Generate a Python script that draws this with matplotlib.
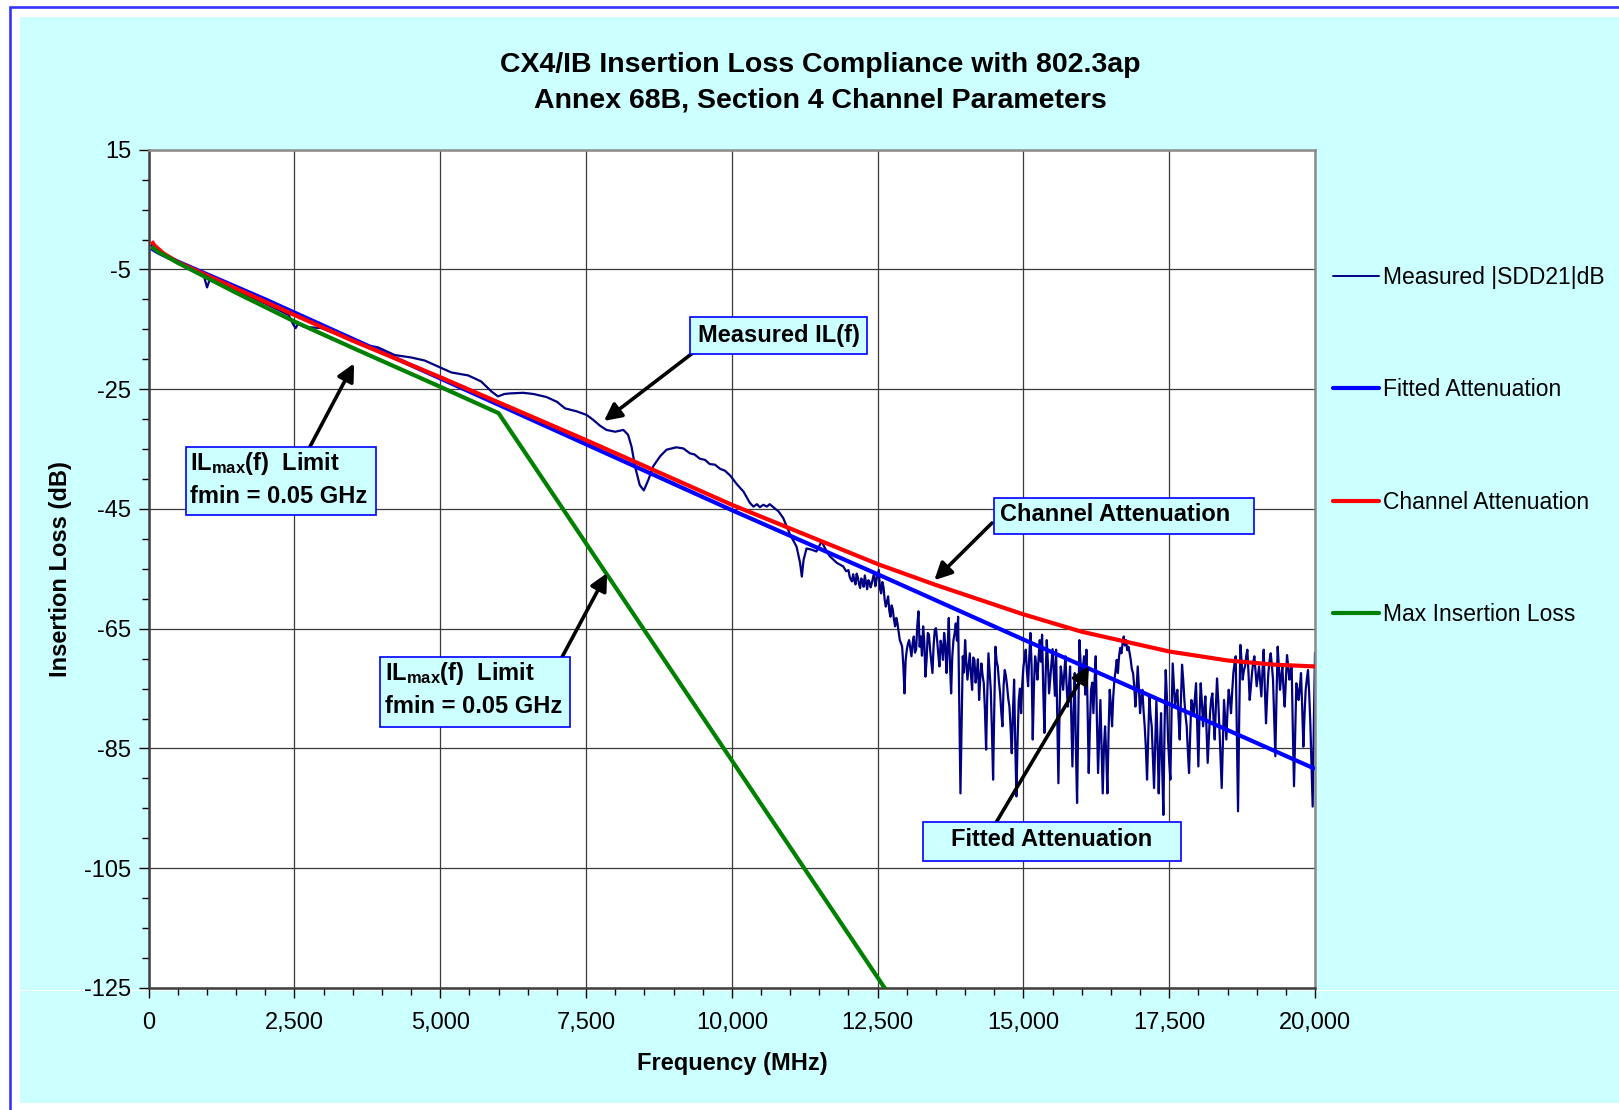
import numpy as np
import matplotlib
matplotlib.use("Agg")
import matplotlib.pyplot as plt
from matplotlib.patches import Rectangle
from matplotlib.lines import Line2D
from matplotlib.ticker import FixedLocator, MultipleLocator, FuncFormatter

plt.rcParams['font.family'] = ['Liberation Sans', 'DejaVu Sans']
plt.rcParams['mathtext.fontset'] = 'custom'
plt.rcParams['mathtext.rm'] = 'Liberation Sans:bold'
plt.rcParams['mathtext.bf'] = 'Liberation Sans:bold'
plt.rcParams['mathtext.it'] = 'Liberation Sans:bold'
plt.rcParams['axes.unicode_minus'] = False

# ---------------- data ----------------
title_lines = ["CX4/IB Insertion Loss Compliance with 802.3ap",
               "Annex 68B, Section 4 Channel Parameters"]
series_names = ["Measured |SDD21|dB", "Fitted Attenuation",
                "Channel Attenuation", "Max Insertion Loss"]

# Measured |SDD21| (smooth low-frequency part)
meas_freq_lo = [50, 200, 500, 800, 950, 1000, 1050, 1500, 2000, 2400,
                2480, 2520, 2560, 2680, 2960, 3250, 3700, 3930, 4220, 4500,
                4730, 4960, 5190, 5480, 5700, 5880, 5990, 6100, 6200, 6420,
                6600, 6820, 7000, 7140, 7340, 7510, 7620, 7740, 7850, 8000,
                8140, 8220, 8280, 8340, 8420, 8490, 8570, 8650, 8770, 8880,
                9050, 9170, 9280, 9360, 9450, 9540, 9620, 9710, 9800, 9880,
                9970, 10080, 10200, 10310, 10370, 10430, 10480, 10540, 10600, 10650,
                10710, 10800, 10880, 10940, 11000, 11050, 11110, 11170, 11200, 11230,
                11280, 11370, 11450, 11540, 11600, 11680, 11800, 11910, 11960]
meas_db_lo = [-1.0, -2.0, -3.6, -5.0, -6.2, -8.0, -6.6, -8.5, -10.7, -12.6,
              -14.2, -14.8, -14.1, -14.6, -14.8, -15.9, -17.6, -18.0, -19.3, -19.7,
              -20.2, -21.2, -22.2, -22.7, -23.7, -25.4, -26.2, -25.8, -25.7, -25.6,
              -25.8, -26.3, -27.1, -28.2, -28.7, -29.3, -30.1, -31.1, -31.8, -32.1,
              -31.8, -32.6, -34.6, -37.9, -41.0, -41.9, -40.1, -37.9, -36.2, -35.1,
              -34.7, -34.9, -35.7, -35.9, -36.6, -36.8, -37.5, -37.6, -38.3, -38.6,
              -39.4, -40.8, -42.1, -44.0, -44.6, -44.2, -44.7, -44.3, -44.6, -44.2,
              -44.7, -45.4, -46.5, -47.9, -49.3, -50.2, -51.3, -54.0, -56.3, -53.5,
              -51.6, -51.8, -52.1, -50.4, -51.6, -52.9, -54.0, -54.6, -55.4]

# Measured |SDD21| (noisy part), samples at 12000, 12040, ... 20000 MHz
meas_hi_start = 12000
meas_hi_step = 40
meas_db_hi = [
    -55.2, -56.8, -55.9, -57.6, -56.4, -58.2, -57.0, -56.1, -58.4, -57.2,
    -57.4, -55.7, -56.8, -55.2, -59.1, -58.0, -61.3, -59.6, -63.0, -61.8,
    -64.6, -64.1, -66.9, -68.0, -75.8, -68.5, -66.9, -69.6, -66.3, -68.5,
    -62.1, -66.3, -64.6, -73.0, -65.7, -68.5, -72.4, -65.2, -66.9, -71.3,
    -68.0, -65.7, -72.4, -63.2, -75.8, -66.9, -64.1, -63.0, -92.5, -69.6,
    -66.9, -73.5, -69.1, -75.2, -70.2, -72.4, -76.9, -70.8, -74.1, -85.2,
    -69.1, -75.2, -90.2, -68.0, -71.3, -75.8, -81.3, -71.9, -74.6, -78.0,
    -85.8, -73.5, -93.0, -76.9, -79.1, -71.3, -68.5, -74.6, -65.7, -83.5,
    -69.6, -73.5, -66.9, -66.0, -82.4, -66.9, -75.8, -70.8, -72.4, -68.5,
    -90.8, -71.3, -75.2, -69.6, -78.0, -71.3, -88.0, -72.4, -94.1, -66.9,
    -73.5, -69.6, -68.5, -89.1, -75.2, -79.1, -69.6, -89.1, -76.9, -92.5,
    -81.3, -92.5, -75.2, -81.3, -73.5, -70.2, -69.6, -69.1, -66.3, -66.9,
    -68.0, -70.2, -72.4, -78.0, -71.3, -79.1, -75.2, -81.3, -90.2, -76.3,
    -81.3, -91.6, -76.9, -92.5, -79.1, -96.1, -71.9, -83.5, -90.2, -70.8,
    -78.0, -75.2, -83.5, -71.0, -76.9, -81.3, -89.1, -76.9, -79.1, -74.1,
    -88.0, -74.1, -81.3, -76.3, -87.4, -79.1, -75.8, -83.5, -73.3, -81.3,
    -91.6, -76.9, -83.5, -75.2, -79.1, -72.4, -69.6, -95.5, -67.7, -73.5,
    -71.3, -68.5, -76.9, -72.4, -69.6, -74.6, -71.3, -76.3, -68.5, -80.8,
    -72.4, -69.1, -73.5, -86.3, -68.0, -75.2, -71.3, -78.0, -69.4, -73.5,
    -71.3, -91.3, -74.1, -76.9, -72.4, -84.7, -75.2, -71.9, -80.8, -94.7,
    -69.1]

# Measured |SDD21| (noisy part), in-between samples at 12020, 12060, ... 19980 MHz
meas_mid_start = 12020
meas_db_mid = [
    -56.3, -57.1, -56.9, -55.8, -57.5, -56.6, -58.0, -57.3, -56.9, -58.1,
    -56.5, -57.9, -56.0, -58.3, -57.2, -60.1, -60.4, -62.0, -61.1, -63.5,
    -63.2, -65.5, -67.4, -71.0, -70.3, -67.5, -68.2, -67.4, -69.0, -64.5,
    -68.0, -69.5, -67.2, -70.1, -66.0, -70.4, -67.8, -64.9, -69.3, -67.0,
    -70.2, -67.5, -68.3, -70.9, -69.6, -65.8, -67.0, -78.4, -81.0, -72.3,
    -70.5, -71.2, -72.6, -69.8, -74.0, -70.1, -73.2, -72.8, -78.6, -76.0,
    -72.2, -82.0, -78.3, -70.4, -73.8, -78.9, -74.5, -72.9, -76.7, -81.6,
    -79.0, -84.4, -83.5, -75.0, -74.2, -70.0, -72.1, -69.8, -71.2, -74.8,
    -71.0, -69.9, -70.5, -75.2, -73.0, -70.7, -73.4, -68.4, -76.2, -80.1,
    -78.5, -73.0, -72.6, -74.4, -74.9, -79.4, -78.8, -85.0, -79.9, -70.6,
    -71.5, -76.0, -78.2, -81.4, -74.0, -73.8, -80.2, -82.7, -84.5, -85.0,
    -86.0, -82.3, -77.8, -76.4, -72.0, -72.4, -68.2, -67.5, -67.8, -68.6,
    -69.0, -71.8, -74.6, -75.1, -74.8, -76.6, -78.7, -85.0, -83.4, -79.5,
    -86.3, -84.2, -83.9, -85.0, -88.4, -81.5, -76.4, -87.2, -79.3, -74.5,
    -76.2, -79.8, -77.0, -73.5, -79.5, -85.4, -82.6, -77.8, -76.6, -80.9,
    -79.4, -77.2, -78.5, -82.0, -83.1, -76.8, -80.1, -78.0, -76.9, -86.5,
    -84.0, -80.3, -78.6, -76.8, -75.5, -70.8, -82.4, -80.1, -70.2, -72.0,
    -69.6, -72.5, -74.8, -70.6, -72.0, -73.0, -73.8, -71.9, -75.0, -76.1,
    -70.4, -71.0, -80.1, -76.3, -71.4, -73.0, -75.1, -73.6, -71.2, -72.0,
    -82.0, -82.4, -75.2, -74.8, -78.0, -79.5, -73.4, -75.7, -87.5, -81.0]

# Fitted attenuation
fit_freq = [50, 150, 250, 500, 1000, 1500, 2000, 2500, 5000, 7500, 10000, 12500, 15000, 17500, 20000]
fit_db = [-1.5, -2.1, -2.6, -3.7, -5.8, -7.9, -10.0, -12.2, -23.2, -34.2, -45.2, -55.9, -66.8, -77.6, -88.4]

# Channel attenuation
ch_freq = [50, 100, 250, 500, 1000, 1500, 2000, 2500, 3500, 5000, 6000, 7500, 10000,
           12500, 13500, 15000, 16000, 17500, 18500, 19300, 20000]
ch_db = [-0.3, -1.0, -2.3, -3.8, -6.0, -8.2, -10.4, -12.6, -16.9, -23.0, -27.2, -33.5, -44.3,
         -54.2, -57.7, -62.6, -65.5, -68.8, -70.3, -71.0, -71.3]

# Max insertion loss (IL_max limit)
max_freq = [50, 150, 300, 500, 1000, 1500, 2000, 2500, 3500, 5000, 6000, 13000]
max_db = [-1.2, -2.0, -2.8, -3.9, -6.4, -8.9, -11.3, -13.7, -18.1, -24.6, -29.0, -130.5]

x_ticks = [0, 2500, 5000, 7500, 10000, 12500, 15000, 17500, 20000]
y_ticks = [15, -5, -25, -45, -65, -85, -105, -125]

# ---------------- figure ----------------
W, H = 1619, 1110
fig = plt.figure(figsize=(W / 100, H / 100), dpi=100, facecolor='white')

def fx(x):
    return x / W

def fy(y):
    return 1 - y / H

# background: blue frame + cyan chart area
fig.add_artist(Rectangle((fx(9.5), fy(1300)), fx(1800), fy(6.5) - fy(1300),
                         transform=fig.transFigure, facecolor='none',
                         edgecolor='#3333FF', lw=1.9, zorder=-3))
fig.add_artist(Rectangle((fx(20), fy(1103)), fx(W - 20 + 5), fy(17) - fy(1103),
                         transform=fig.transFigure, facecolor='#CCFFFF',
                         edgecolor='none', zorder=-2))
fig.add_artist(Line2D([fx(20), 1.0], [fy(989.5), fy(989.5)], transform=fig.transFigure,
                      color='white', lw=0.8, zorder=-1))

L, R, T, B = 148.7, 1315.0, 149.7, 988.0
ax = fig.add_axes([fx(L), fy(B), fx(R - L), fy(T) - fy(B)])
ax.set_facecolor('white')

hi_pairs = [(meas_hi_start + i * meas_hi_step, v) for i, v in enumerate(meas_db_hi)]
hi_pairs += [(meas_mid_start + i * meas_hi_step, v) for i, v in enumerate(meas_db_mid)]
hi_pairs.sort()
meas_freq = list(meas_freq_lo) + [p[0] for p in hi_pairs]
meas_db = list(meas_db_lo) + [p[1] for p in hi_pairs]

ax.plot(meas_freq, meas_db, color='#000080', lw=1.6, zorder=2, label=series_names[0])
ax.plot(fit_freq, fit_db, color='#0000FF', lw=3.0, zorder=3, label=series_names[1],
        solid_capstyle='butt')
ax.plot(ch_freq, ch_db, color='#FF0000', lw=3.0, zorder=4, label=series_names[2],
        solid_capstyle='butt')
ax.plot(max_freq, max_db, color='#008000', lw=3.0, zorder=5, label=series_names[3],
        solid_capstyle='butt')

ax.set_xlim(0, 20000)
ax.set_ylim(-125, 15)
ax.xaxis.set_major_locator(FixedLocator(x_ticks))
ax.xaxis.set_minor_locator(MultipleLocator(500))
ax.yaxis.set_major_locator(FixedLocator(y_ticks))
ax.yaxis.set_minor_locator(MultipleLocator(5))
ax.xaxis.set_major_formatter(FuncFormatter(lambda v, p: f"{int(round(v)):,}"))
ax.yaxis.set_major_formatter(FuncFormatter(lambda v, p: f"{int(round(v))}"))
ax.tick_params(axis='both', which='major', direction='out', length=7, width=1.0,
               color='black', labelsize=17)
ax.tick_params(axis='both', which='minor', direction='out', length=5, width=1.0,
               color='black')
ax.tick_params(axis='x', which='major', pad=10.5)
ax.tick_params(axis='y', which='major', pad=5.5)
ax.grid(True, which='major', color='#3a3a3a', lw=0.9)
ax.set_axisbelow(True)
for s in ['top', 'right']:
    ax.spines[s].set_color('#8c8c8c')
    ax.spines[s].set_linewidth(1.8)
for s in ['left', 'bottom']:
    ax.spines[s].set_color('#404040')
    ax.spines[s].set_linewidth(1.8)

ax.set_xlabel("Frequency (MHz)", fontsize=17, fontweight='bold')
ax.set_ylabel("Insertion Loss (dB)", fontsize=17, fontweight='bold')
ax.xaxis.set_label_coords(0.5, -(1052 - B) / (B - T))
ax.yaxis.set_label_coords(-(L - 72) / (R - L), 0.5)

fig.text(fx(820), fy(65), title_lines[0], ha='center', va='center',
         fontsize=20.5, fontweight='bold')
fig.text(fx(820), fy(101), title_lines[1], ha='center', va='center',
         fontsize=20.5, fontweight='bold')

leg = ax.legend(loc='upper left', bbox_to_anchor=(fx(1333), fy(266)),
                bbox_transform=fig.transFigure, frameon=False, fontsize=16.5,
                handlelength=2.0, handletextpad=0.2, labelspacing=3.9,
                borderpad=0, borderaxespad=0)
for h in leg.get_lines():
    h.set_solid_capstyle('round')
leg.get_lines()[0].set_linewidth(1.4)

# ---------------- annotation boxes + arrows ----------------
box_fc, box_ec = '#CCFFFF', '#0000FF'

def box(x0, y0, x1, y1):
    fig.add_artist(Rectangle((fx(x0), fy(y1)), fx(x1 - x0), fy(y0) - fy(y1),
                             transform=fig.transFigure, facecolor=box_fc,
                             edgecolor=box_ec, lw=1.2, zorder=6))

def arrow(x_start, y_start, f_tip, v_tip):
    ax.annotate('', xy=(f_tip, v_tip), xycoords='data',
                xytext=(fx(x_start), fy(y_start)), textcoords='figure fraction',
                arrowprops=dict(arrowstyle='-|>', color='black', lw=2.6,
                                mutation_scale=26, shrinkA=0, shrinkB=0),
                annotation_clip=False, zorder=7)

def btext(x, y, s, ha='center'):
    fig.text(fx(x), fy(y), s, ha=ha, va='center', fontsize=17,
             fontweight='bold', zorder=8)

il_line = r"IL$_{\mathbf{max}}$(f)  Limit"

# Measured IL(f)
arrow(694, 352, 7807, -30.3)
box(689.7, 317, 867.3, 354.1)
btext(778.5, 335.5, "Measured IL(f)")

# IL_max box 1
arrow(309.8, 447, 3522, -20.7)
box(185.9, 447, 375.8, 515.2)
btext(190, 463.6, il_line, ha='left')
btext(190, 496.6, "fmin = 0.05 GHz", ha='left')

# IL_max box 2
arrow(561.7, 657.7, 7861, -55.7)
box(380, 656.7, 570, 727)
btext(385, 673.2, il_line, ha='left')
btext(385, 706.2, "fmin = 0.05 GHz", ha='left')

# Channel Attenuation
arrow(992, 523, 13472, -56.9)
box(994.3, 497.7, 1253.5, 533.8)
btext(1115, 514.2, "Channel Attenuation")

# Fitted Attenuation
arrow(996.4, 822, 16128, -71.2)
box(923, 821.9, 1181.2, 861.1)
btext(1052, 840, "Fitted Attenuation")

fig.savefig("out.png", dpi=100, facecolor='white')
